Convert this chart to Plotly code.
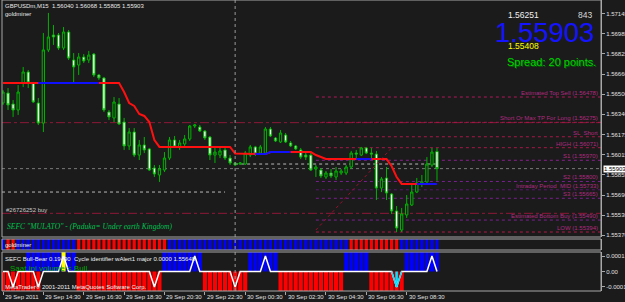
import pandas as pd
import plotly.graph_objects as go

# ---------------- data ----------------
bar_times = pd.date_range("2011-09-29 12:30", periods=87, freq="15min")

opens = [1.56430,1.56510,1.56422,1.56374,1.56591,1.56679,1.56591,1.56430,1.56269,1.56856,
         1.56976,1.56976,1.56872,1.57000,1.56775,1.56735,1.56799,1.56775,1.56823,1.56655,
         1.56631,1.56358,1.56310,1.56422,1.56277,1.56085,1.56197,1.56012,1.56093,1.56061,
         1.55908,1.55852,1.55892,1.55988,1.56133,1.56077,1.56101,1.56141,1.56245,1.56237,
         1.56205,1.56157,1.56012,1.56012,1.56053,1.55988,1.55948,1.55940,1.55940,1.56012,
         1.56077,1.56028,1.56028,1.56221,1.56149,1.56117,1.56173,1.56109,1.56085,1.56053,
         1.56012,1.56012,1.55900,1.55892,1.55836,1.55868,1.55836,1.55868,1.55868,1.55916,
         1.56028,1.56012,1.56069,1.56028,1.56020,1.55747,1.55828,1.55699,1.55563,1.55410,
         1.55531,1.55611,1.55715,1.55780,1.55796,1.55932,1.56040]
highs = [1.56534,1.56550,1.56454,1.56574,1.56719,1.56695,1.56599,1.56470,1.56992,1.57153,
         1.57056,1.56992,1.57040,1.57016,1.56831,1.56831,1.56823,1.56848,1.56831,1.56663,
         1.56639,1.56374,1.56478,1.56470,1.56310,1.56229,1.56229,1.56133,1.56157,1.56069,
         1.55932,1.55932,1.56036,1.56157,1.56165,1.56133,1.56173,1.56253,1.56261,1.56253,
         1.56213,1.56165,1.56069,1.56069,1.56069,1.56012,1.55956,1.55956,1.56045,1.56093,
         1.56085,1.56093,1.56237,1.56237,1.56157,1.56213,1.56189,1.56125,1.56093,1.56069,
         1.56036,1.56028,1.55932,1.55908,1.55884,1.55900,1.55916,1.55900,1.55932,1.56045,
         1.56053,1.56077,1.56077,1.56069,1.56045,1.55836,1.55916,1.55707,1.55603,1.55587,
         1.55691,1.55771,1.55828,1.55852,1.55996,1.56069,1.56068]
lows = [1.56414,1.56374,1.56318,1.56334,1.56558,1.56550,1.56430,1.56253,1.56197,1.56839,
        1.56896,1.56856,1.56856,1.56775,1.56591,1.56655,1.56751,1.56751,1.56639,1.56615,
        1.56358,1.56293,1.56277,1.56253,1.56053,1.56053,1.55996,1.55972,1.56028,1.55884,
        1.55836,1.55796,1.55876,1.55972,1.56069,1.56053,1.56085,1.56125,1.56229,1.56197,
        1.56133,1.55972,1.55948,1.55988,1.55972,1.55932,1.55924,1.55932,1.55932,1.55996,
        1.56004,1.56012,1.56020,1.56157,1.56117,1.56109,1.56109,1.56077,1.56053,1.55980,
        1.55972,1.55884,1.55836,1.55828,1.55820,1.55828,1.55812,1.55852,1.55852,1.55900,
        1.55988,1.56004,1.56020,1.55972,1.55651,1.55715,1.55651,1.55539,1.55394,1.55394,
        1.55507,1.55603,1.55707,1.55755,1.55788,1.55916,1.55805]
closes = [1.56518,1.56414,1.56374,1.56518,1.56679,1.56591,1.56438,1.56269,1.56856,1.56960,
          1.56960,1.56872,1.57000,1.56791,1.56719,1.56799,1.56767,1.56815,1.56655,1.56631,
          1.56374,1.56318,1.56438,1.56261,1.56085,1.56197,1.56012,1.56093,1.56053,1.55892,
          1.55860,1.55900,1.55988,1.56133,1.56077,1.56109,1.56141,1.56245,1.56253,1.56205,
          1.56149,1.56012,1.56036,1.56045,1.55988,1.55948,1.55932,1.55948,1.56028,1.56077,
          1.56020,1.56077,1.56221,1.56165,1.56125,1.56189,1.56117,1.56085,1.56061,1.55996,
          1.55996,1.55892,1.55916,1.55844,1.55868,1.55844,1.55884,1.55884,1.55916,1.56028,
          1.56020,1.56069,1.56028,1.56020,1.55747,1.55820,1.55707,1.55563,1.55426,1.55539,
          1.55619,1.55715,1.55788,1.55796,1.55940,1.56036,1.55903]

# goldminer trailing line and its direction (1 = blue, -1 = red)
gm_line = [1.56591,1.56591,1.56591,1.56591,1.56591,1.56591,1.56591,1.56591,1.56591,1.56591,
           1.56591,1.56591,1.56591,1.56591,1.56591,1.56591,1.56591,1.56591,1.56591,1.56591,
           1.56591,1.56591,1.56591,1.56591,1.56518,1.56430,1.56406,1.56342,1.56326,1.56277,
           1.56133,1.56077,1.56077,1.56077,1.56077,1.56077,1.56077,1.56077,1.56077,1.56077,
           1.56077,1.56077,1.56077,1.56077,1.56077,1.56077,1.56024,1.56024,1.56024,1.56024,
           1.56020,1.56020,1.56020,1.56036,1.56036,1.56036,1.56036,1.56036,1.56036,1.56036,
           1.56036,1.56036,1.56012,1.55996,1.55980,1.55980,1.55980,1.55980,1.55980,1.55980,
           1.55980,1.55980,1.55980,1.55980,1.55980,1.55980,1.55980,1.55924,1.55836,1.55780,
           1.55780,1.55780,1.55780,1.55780,1.55780,1.55780,1.55780]
gm_trend = [-1,-1,-1,-1,-1,-1,-1, 1, 1, 1,  1, 1, 1, 1, 1, 1, 1, 1, 1, 1,
            -1,-1,-1,-1,-1,-1,-1,-1,-1,-1, -1,-1,-1,-1,-1,-1,-1,-1,-1,-1,
            -1,-1,-1,-1,-1,-1,-1,-1,-1,-1,  1, 1, 1, 1, 1, 1, 1, 1,-1,-1,
            -1,-1,-1,-1,-1,-1,-1,-1,-1,-1,  1, 1, 1, 1,-1,-1,-1,-1,-1,-1,
            -1,-1, 1, 1, 1, 1, 1]
# goldminer histogram (1 = blue, -1 = red)
gm_hist = [1,-1,-1, 1, 1, 1, 1, 1, 1, 1,  1, 1, 1, 1, 1,-1,-1,-1,-1,-1,
           -1,-1,-1,-1,-1,-1,-1,-1,-1,-1, -1,-1,-1, 1, 1, 1, 1, 1, 1, 1,
           1, 1, 1, 1, 1, 1, 1, 1, 1, 1,  1, 1, 1, 1, 1, 1, 1, 1, 1, 1,
           1, 1, 1, 1, 1, 1, 1, 1, 1,-1, -1,-1,-1,-1,-1,-1,-1,-1,-1, 1,
           1, 1, 1, 1, 1, 1, 1]
# SEFC Bull-Bear states
sefc_bull = [0,0,0,0,0,1,1,1,1,1, 1,1,1,1,1,0,0,0,0,0, 0,0,0,0,0,0,0,0,0,0,
             0,0,1,1,1,1,1,1,1,1, 0,0,0,0,0,0,0,0,0,1, 1,1,1,1,1,0,0,0,0,0,
             0,0,0,0,0,0,0,0,1,1, 1,1,1,0,0,0,0,0,0,0, 1,1,1,1,1,1,1]
sefc_bear = [1,1,1,1,1,1,1,1,0,0, 0,0,0,0,0,1,1,1,1,1, 1,1,1,1,1,1,1,1,1,1,
             1,1,0,0,0,0,0,0,0,0, 1,1,1,1,1,1,1,1,1,0, 0,0,0,0,0,1,1,1,1,1,
             1,1,1,1,1,1,1,1,0,0, 0,0,0,1,1,1,1,1,1,1, 0,0,0,0,0,0,0]
cycle = [0,0,-0.0001,0,0,0,0,-0.0001,0,0, 0,0,0.0001,0,0,0,0,0,0,0,
         0,0,0,0,0,0,0,0,0,0, -0.0001,0,0,0,0,0,0,0,0.0001,0,
         0,0,0,0,0,0,-0.0001,0,0,0, 0,0,0.0001,0,0,0,0,0,0,0,
         0,0,0,0,0,0,0,0,0,0, 0,0,0,0,0,0,0,0,-0.0001,0,
         0,0,0,0,0,0.0001,0]
volume_alert_time = "2011-09-29 15:30"
major_alert_time = "2011-09-30 08:00"

x_tick_times = ["2011-09-29 12:30", "2011-09-29 14:30", "2011-09-29 16:30", "2011-09-29 18:30",
                "2011-09-29 20:30", "2011-09-29 22:30", "2011-09-30 00:30", "2011-09-30 02:30",
                "2011-09-30 04:30", "2011-09-30 06:30", "2011-09-30 08:30"]
x_tick_labels = ["29 Sep 2011", "29 Sep 14:30", "29 Sep 16:30", "29 Sep 18:30", "29 Sep 20:30",
                 "29 Sep 22:30", "30 Sep 00:30", "30 Sep 02:30", "30 Sep 04:30", "30 Sep 06:30",
                 "30 Sep 08:30"]
price_ticks = [1.57145, 1.56985, 1.56825, 1.56660, 1.56500, 1.56340, 1.56175,
               1.56015, 1.55855, 1.55690, 1.55530, 1.55370]

level_names = ["Estimated Top Sell (1.56478)", "Short Or Max TP For Long (1.56275)", "SL  Short",
               "HIGH (1.56071)", "S1 (1.55970)", "S2 (1.55800)", "Intraday Period  MID (1.55733)",
               "S3 (1.55665)", "Estimated Bottom Buy (1.55490)", "LOW (1.55394)"]
level_prices = [1.56478, 1.56275, 1.56159, 1.56071, 1.55970, 1.55800, 1.55733, 1.55665, 1.55490, 1.55394]
levels_start = "2011-09-30 04:00"
order_prices = [1.56272, 1.55544]
bid_price = 1.55903
ask_price = 1.56251
low_price = 1.55408
day_open_price = 1.55940
day_start = "2011-09-30 00:00"
prev_line_price = 1.55715
prev_line_end = "2011-09-29 23:30"
trend_x = ["2011-09-30 04:00", "2011-09-30 07:45"]
trend_y = [1.55410, 1.56069]

# ---------------- layout helpers ----------------
BG = "#1b1b1b"
FRAME = "#a8a8a8"
PLOT_H = 291.0
PLOT_W = 599.0
X_RANGE = ["2011-09-29 12:27:02", "2011-09-30 18:07:30"]
BAR_MS = 15 * 60 * 1000


def ax(px):
    return (px - 2) / PLOT_W


def ay(py):
    return 1 - py / PLOT_H


main_dom = [ay(237), 1]
p1_dom = [ay(250), ay(239)]
p2_dom = [0, ay(252)]

fig = go.Figure()

# ---------------- main chart ----------------
fig.add_trace(go.Candlestick(
    x=bar_times, open=opens, high=highs, low=lows, close=closes,
    increasing=dict(line=dict(color="#00b400", width=1), fillcolor=BG),
    decreasing=dict(line=dict(color="#00b400", width=1), fillcolor="#ffffff"),
    whiskerwidth=0, xaxis="x", yaxis="y", showlegend=False, hoverinfo="skip"))

fig.add_trace(go.Scatter(x=bar_times, y=gm_line, mode="lines",
                         line=dict(color="#ff1010", width=2), xaxis="x", yaxis="y",
                         showlegend=False, hoverinfo="skip"))
blue_line = [v if t == 1 else None for v, t in zip(gm_line, gm_trend)]
fig.add_trace(go.Scatter(x=bar_times, y=blue_line, mode="lines",
                         line=dict(color="#1010ff", width=2), xaxis="x", yaxis="y",
                         showlegend=False, hoverinfo="skip"))
fig.add_trace(go.Scatter(x=trend_x, y=trend_y, mode="lines",
                         line=dict(color="#9a1030", width=1, dash="dot"), xaxis="x", yaxis="y",
                         showlegend=False, hoverinfo="skip"))

# ---------------- panel 1: goldminer histogram ----------------
fig.add_trace(go.Bar(x=bar_times, y=[1 for _ in gm_hist],
                     marker=dict(color=["#0000ff" if h == 1 else "#ff0000" for h in gm_hist], line=dict(width=0)),
                     width=BAR_MS * 0.62, xaxis="x", yaxis="y2", showlegend=False, hoverinfo="skip"))

# ---------------- panel 2: SEFC bull/bear ----------------
fig.add_trace(go.Bar(x=bar_times, y=[0.00013 if b else None for b in sefc_bull],
                     marker=dict(color="#0000ff", line=dict(width=0)), width=BAR_MS * 0.82,
                     xaxis="x", yaxis="y3", showlegend=False, hoverinfo="skip"))
fig.add_trace(go.Bar(x=bar_times, y=[-0.00013 if b else None for b in sefc_bear],
                     marker=dict(color="#ff0000", line=dict(width=0)), width=BAR_MS * 0.82,
                     xaxis="x", yaxis="y3", showlegend=False, hoverinfo="skip"))
fig.add_trace(go.Bar(x=[volume_alert_time], y=[0.00013],
                     marker=dict(color="#ffff00", line=dict(width=0)), width=BAR_MS * 0.8,
                     xaxis="x", yaxis="y3", showlegend=False, hoverinfo="skip"))
fig.add_trace(go.Bar(x=[major_alert_time], y=[-0.0001],
                     marker=dict(color="#00e0ff", line=dict(width=0)), width=BAR_MS * 0.5,
                     xaxis="x", yaxis="y3", showlegend=False, hoverinfo="skip"))
fig.add_trace(go.Scatter(x=bar_times, y=cycle, mode="lines",
                         line=dict(color="#ffffff", width=1.5), xaxis="x", yaxis="y3",
                         showlegend=False, hoverinfo="skip"))
ai = list(bar_times).index(pd.Timestamp(major_alert_time))
fig.add_trace(go.Scatter(x=bar_times[ai - 1:ai + 2], y=cycle[ai - 1:ai + 2], mode="lines",
                         line=dict(color="#00e0ff", width=1.5), xaxis="x", yaxis="y3",
                         showlegend=False, hoverinfo="skip"))

# ---------------- shapes ----------------
shapes = []
level_colors = ["#b0185a", "#a8184e", "#a81848", "#a81848", "#8a2090",
                "#7a2090", "#5a1470", "#7a2090", "#7a2090", "#b01848"]
for price, col in zip(level_prices, level_colors):
    shapes.append(dict(type="line", xref="x", yref="y", x0=levels_start, x1=X_RANGE[1],
                       y0=price, y1=price, line=dict(color=col, width=1, dash="dot"), layer="below"))
for price in order_prices:
    shapes.append(dict(type="line", xref="paper", yref="y", x0=0, x1=1, y0=price, y1=price,
                       line=dict(color="#8e1838", width=1, dash="dashdot"), layer="below"))
shapes.append(dict(type="line", xref="paper", yref="y", x0=0, x1=1, y0=bid_price, y1=bid_price,
                   line=dict(color="#7a7a7a", width=1, dash="dot"), layer="below"))
shapes.append(dict(type="line", xref="x", yref="y", x0=day_start, x1=bar_times[-1],
                   y0=day_open_price, y1=day_open_price,
                   line=dict(color="#b8b8b8", width=1, dash="dot"), layer="below"))
shapes.append(dict(type="line", xref="x", yref="y", x0=X_RANGE[0], x1=prev_line_end,
                   y0=prev_line_price, y1=prev_line_price,
                   line=dict(color="#b8b8b8", width=1, dash="dot"), layer="below"))
shapes.append(dict(type="line", xref="x", yref="paper", x0=day_start, x1=day_start, y0=0, y1=1,
                   line=dict(color="#9a9a9a", width=1, dash="dot")))
for dom in (main_dom, p1_dom, p2_dom):
    shapes.append(dict(type="rect", xref="paper", yref="paper", x0=0, x1=1, y0=dom[0], y1=dom[1],
                       line=dict(color=FRAME, width=1), fillcolor="rgba(0,0,0,0)"))

# ---------------- annotations ----------------
F = "Liberation Sans"
ann = []


def txt(text, x, y, size, color, xanchor="left", family=F):
    ann.append(dict(text=text, xref="paper", yref="paper", x=ax(x), y=ay(y), xanchor=xanchor,
                    yanchor="middle", showarrow=False, font=dict(family=family, size=size, color=color)))


o, h, l, c = opens[-1], highs[-1], lows[-1], closes[-1]
txt(f"GBPUSDm,M15  {o:.5f} {h:.5f} {l:.5f} {c:.5f}", 3, 6, 6, "#e8e8e8")
txt("goldminer", 3, 14, 6, "#e8e8e8")
txt("#26726252 buy", 4, 210, 6, "#c8c8c8")
txt('<i>SEFC "MULATO" - (Paduka= Under earth Kingdom)</i>', 5, 226, 7.6, "#00c050",
    family="Liberation Serif")
txt(f"{ask_price:.5f}", 506, 15, 8.5, "#f0f0f0")
txt("843", 594, 15, 8.5, "#d8d8d8", xanchor="right")
txt(f"{bid_price:.5f}", 544, 32, 27.5, "#1414ff", xanchor="center")
txt(f"{low_price:.5f}", 506, 46, 8.5, "#ffff00")
txt("Spread: 20 points.", 506, 63, 11, "#006000")
txt("Spread: 20 points.", 505, 62, 11, "#00d400")

for name, price in zip(level_names, level_prices):
    ann.append(dict(text=name, xref="paper", yref="y", x=1, y=price, xanchor="right", yanchor="bottom",
                    xshift=-1, yshift=-1, showarrow=False,
                    font=dict(family=F, size=6, color="#b02a80")))

ann.append(dict(text=f"{bid_price:.5f}", xref="paper", yref="y", x=1, y=bid_price, xanchor="left",
                yanchor="middle", xshift=2, showarrow=False, bgcolor="#ffffff", borderpad=0,
                font=dict(family=F, size=6, color="#000000")))

txt("goldminer", 3, 245, 6, "#f0f0f0")
txt("SEFC Bull-Bear 0.19490  Cycle identifier wAlert1 major 0.0000 1.55648", 3, 259, 6, "#f0f0f0")
txt("Saat ini volume = Bull", 8, 268, 8, "#00a800")
txt("MetaTrader\u00ae 2001-2011 MetaQuotes Software Corp.", 3, 287, 6, "#f0f0f0")

for t, lab in zip(x_tick_times, x_tick_labels):
    ann.append(dict(text=lab, xref="x", yref="paper", x=t, y=0, xanchor="left", yanchor="top",
                    xshift=0, yshift=-1, showarrow=False, font=dict(family=F, size=6, color="#e0e0e0")))

# ---------------- layout ----------------
axis_common = dict(showgrid=False, zeroline=False, side="right", showline=True, linecolor=FRAME,
                   ticklen=3, tickcolor=FRAME,
                   tickfont=dict(family=F, size=6, color="#e0e0e0"), fixedrange=True)

fig.update_layout(
    width=625, height=302,
    margin=dict(l=2, r=24, t=0, b=11, autoexpand=False),
    paper_bgcolor=BG, plot_bgcolor=BG,
    showlegend=False, barmode="overlay", boxgap=0.35,
    xaxis=dict(type="date", range=X_RANGE, anchor="y3", showgrid=False, zeroline=False,
               showline=False, ticks="outside", ticklen=3, tickcolor=FRAME,
               tickvals=x_tick_times, showticklabels=False, rangeslider=dict(visible=False),
               fixedrange=True),
    yaxis=dict(domain=main_dom, range=[1.55354, 1.57257], anchor="x", tickvals=price_ticks,
               ticktext=[f"{p:.5f}" for p in price_ticks], ticks="outside", **axis_common),
    yaxis2=dict(domain=p1_dom, range=[0, 1], anchor="x", showticklabels=False, ticks="",
                **axis_common),
    yaxis3=dict(domain=p2_dom, range=[-0.000126, 0.000126], anchor="x", ticks="outside",
                tickvals=[0.0001, 0, -0.0001], ticktext=["0.0001", "0.00", "-0.0001"], **axis_common),
    shapes=shapes, annotations=ann,
)

fig.write_html("out.html")
